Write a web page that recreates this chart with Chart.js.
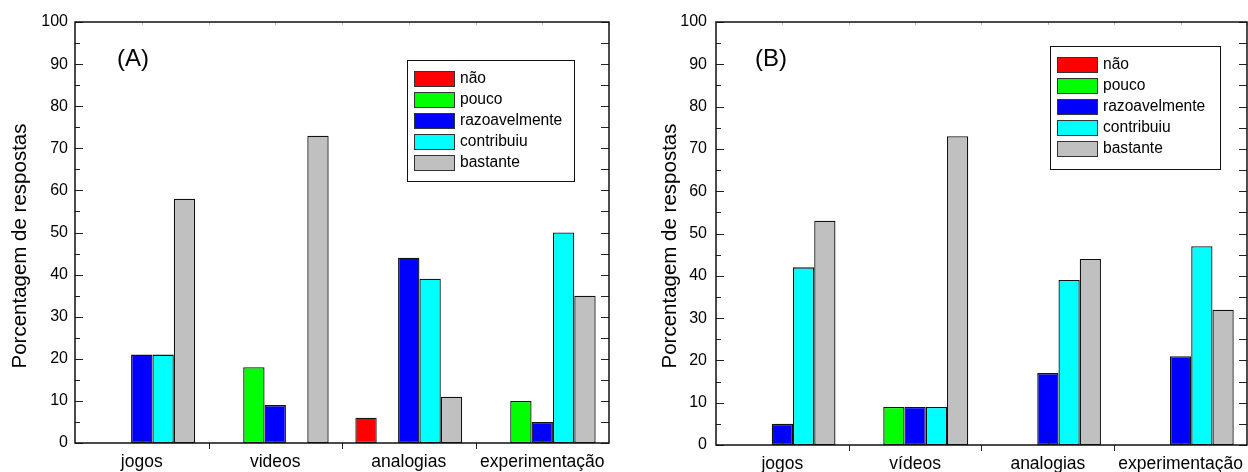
<!DOCTYPE html>
<html>
<head>
<meta charset="utf-8">
<script src="https://cdn.jsdelivr.net/npm/chart.js@4.4.1/dist/chart.umd.min.js"></script>
<style>
    html, body { margin: 0; padding: 0; background: #fff; overflow: hidden; }
    body { width: 1248px; height: 472px; position: relative; }
    .panel { position: absolute; top: 0; height: 472px; }
    #panelA { left: 0; width: 624px; }
    #panelB { left: 650px; width: 602px; }
</style>
</head>
<body>
<div class="panel" id="panelA"><canvas id="chartA"></canvas></div>
<div class="panel" id="panelB"><canvas id="chartB"></canvas></div>
<script>
// data (percent of answers)
const categoriesA = ["jogos", "videos", "analogias", "experimentação"];
const categoriesB = ["jogos", "vídeos", "analogias", "experimentação"];
const seriesNames = ["não", "pouco", "razoavelmente", "contribuiu", "bastante"];
const seriesColors = ["#ff0000", "#00ff00", "#0000ff", "#00ffff", "#c0c0c0"];
const yTicks = [0, 10, 20, 30, 40, 50, 60, 70, 80, 90, 100];

// panel (A)
const naoA = [0, 0, 6, 0];
const poucoA = [0, 18, 0, 10];
const razoavelA = [21, 9, 44, 5];
const contribuiuA = [21, 0, 39, 50];
const bastanteA = [58, 73, 11, 35];

// panel (B)
const naoB = [0, 0, 0, 0];
const poucoB = [0, 9, 0, 0];
const razoavelB = [5, 9, 17, 21];
const contribuiuB = [42, 9, 39, 47];
const bastanteB = [53, 73, 44, 32];

const FONT = "'Liberation Sans', Arial, sans-serif";

function makeDatasets(rows) {
    return rows.map((values, i) => ({
        label: seriesNames[i],
        data: values,
        backgroundColor: seriesColors[i],
        borderColor: "#111",
        borderWidth: 1.3,
        borderSkipped: false,
        categoryPercentage: 0.8,
        barPercentage: 1.0
    }));
}

// frame, inward ticks, legend box, panel letter and y title (Origin look)
const framePlugin = {
    id: "frame",
    afterDraw(chart, args, opts) {
        const ctx = chart.ctx;
        const a = chart.chartArea;
        const y = chart.scales.y;
        const x = chart.scales.x;
        ctx.save();

        // y ticks, inward on both sides
        ctx.strokeStyle = "#222";
        ctx.lineWidth = 1;
        for (let v = 0; v <= 100; v += 5) {
            const py = Math.round(y.getPixelForValue(v)) + 0.5;
            const major = v % 10 === 0;
            ctx.beginPath();
            ctx.moveTo(a.left, py);
            ctx.lineTo(a.left + (major ? 8 : 5), py);
            ctx.moveTo(a.right, py);
            ctx.lineTo(a.right - 8, py);
            ctx.stroke();
        }

        // x ticks: boundaries go down, centres small up; top light marks
        const n = chart.data.labels.length;
        for (let i = 0; i < n; i++) {
            const cx = Math.round(x.getPixelForValue(i)) + 0.5;
            const bx = Math.round(x.getPixelForValue(i + 0.5)) + 0.5;
            ctx.strokeStyle = "#222";
            ctx.beginPath();
            ctx.moveTo(cx, a.bottom);
            ctx.lineTo(cx, a.bottom - 3);
            if (i < n - 1) {
                ctx.moveTo(bx, a.bottom);
                ctx.lineTo(bx, a.bottom + 6);
            }
            ctx.stroke();
            ctx.strokeStyle = "#bbb";
            ctx.beginPath();
            ctx.moveTo(cx, a.top);
            ctx.lineTo(cx, a.top + 3);
            ctx.moveTo(bx, a.top);
            ctx.lineTo(bx, a.top + 3);
            ctx.stroke();
        }

        // frame
        ctx.strokeStyle = "#111";
        ctx.lineWidth = 1.5;
        ctx.strokeRect(a.left, a.top, a.right - a.left, a.bottom - a.top);

        // legend built from the datasets
        const L = opts.legend;
        ctx.lineWidth = 1;
        ctx.fillStyle = "#fff";
        ctx.fillRect(L.x, L.y, L.w, L.h);
        ctx.strokeStyle = "#111";
        ctx.strokeRect(L.x + 0.5, L.y + 0.5, L.w, L.h);
        ctx.font = "15.6px " + FONT;
        ctx.textBaseline = "middle";
        ctx.textAlign = "left";
        chart.data.datasets.forEach((ds, i) => {
            const ry = L.y + L.rowTop + i * 21;
            ctx.fillStyle = ds.backgroundColor;
            ctx.fillRect(L.x + 7, ry, 40, 15);
            ctx.strokeStyle = "#333";
            ctx.strokeRect(L.x + 7.5, ry + 0.5, 40, 15);
            ctx.fillStyle = "#000";
            ctx.fillText(ds.label, L.x + 53, ry + 8);
        });

        // panel letter
        ctx.font = "24px " + FONT;
        ctx.fillStyle = "#000";
        ctx.fillText(opts.letter, opts.letterX, 59);

        // y title
        ctx.translate(20, 246);
        ctx.rotate(-Math.PI / 2);
        ctx.textAlign = "center";
        ctx.font = "20.5px " + FONT;
        ctx.fillText("Porcentagem de respostas", 0, 0);

        ctx.restore();
    }
};

function makeChart(id, labels, rows, cfg) {
    return new Chart(document.getElementById(id), {
        type: "bar",
        data: { labels: labels, datasets: makeDatasets(rows) },
        options: {
            responsive: true,
            maintainAspectRatio: false,
            animation: false,
            layout: { padding: { top: 22, right: cfg.padRight, left: 0, bottom: 0 } },
            plugins: {
                legend: { display: false },
                tooltip: { enabled: false },
                frame: cfg.frame
            },
            scales: {
                x: {
                    grid: { display: false, drawTicks: false },
                    border: { display: false },
                    ticks: { color: "#000", padding: 9, font: { family: FONT, size: 17.5 } },
                    afterFit: (s) => { s.height = cfg.xHeight; }
                },
                y: {
                    min: 0,
                    max: 100,
                    grid: { display: false, drawTicks: false },
                    border: { display: false },
                    afterBuildTicks: (s) => { s.ticks = yTicks.map(v => ({ value: v })); },
                    ticks: { color: "#000", padding: cfg.yPad, font: { family: FONT, size: 16 } },
                    afterFit: (s) => { s.width = cfg.yWidth; }
                }
            }
        },
        plugins: [framePlugin]
    });
}

document.addEventListener("DOMContentLoaded", () => {
    makeChart("chartA", categoriesA, [naoA, poucoA, razoavelA, contribuiuA, bastanteA], {
        padRight: 15, xHeight: 29, yWidth: 75, yPad: 7,
        frame: { letter: "(A)", letterX: 117, legend: { x: 407, y: 60, w: 167, h: 121, rowTop: 11 } }
    });
    makeChart("chartB", categoriesB, [naoB, poucoB, razoavelB, contribuiuB, bastanteB], {
        padRight: 1, xHeight: 27, yWidth: 66, yPad: 9,
        frame: { letter: "(B)", letterX: 105, legend: { x: 400, y: 46, w: 170, h: 123, rowTop: 11 } }
    });
});
</script>
</body>
</html>
